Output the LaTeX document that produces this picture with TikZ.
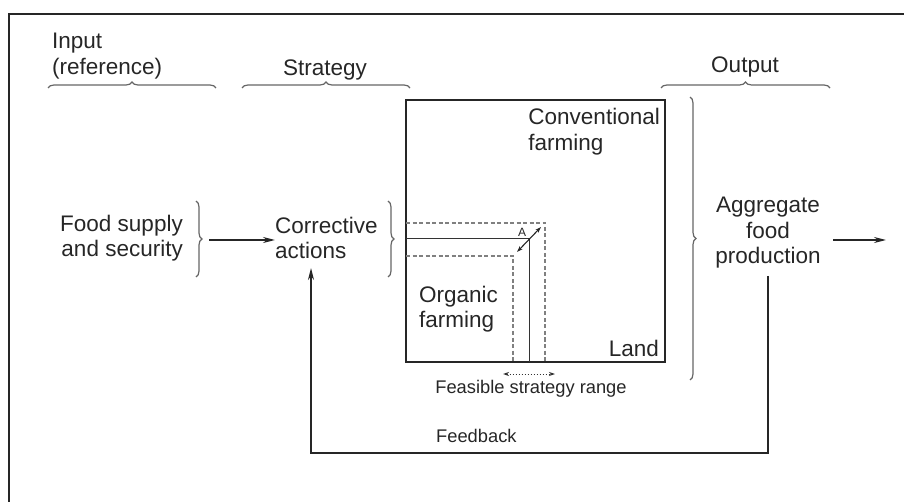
\documentclass[tikz,border=0pt]{standalone}
\usepackage{fontspec}
\setmainfont{Liberation Sans}
\usetikzlibrary{arrows.meta,decorations.pathreplacing,positioning}

\tikzset{
  lbl/.style={inner sep=0pt, text=black!85, font=\fontsize{22.5}{25.5}\selectfont},
  small/.style={inner sep=0pt, text=black!85, font=\fontsize{18.3}{21}\selectfont},
  brc/.style={decorate, decoration={brace, amplitude=6pt}, draw=black!60, line width=1.2pt},
  arr/.style={-{Stealth[length=12pt,width=6pt]}, draw=black!85, line width=1.6pt},
  cut/.style={draw=black!50, dash pattern=on 4pt off 2.5pt, line width=1.1pt},
}

\begin{document}
\begin{tikzpicture}[x=1pt,y=1pt]
	\useasboundingbox (0,0) rectangle (904,-502);
	% frame
	\draw[line width=2.5pt, black!85] (9,-502) -- (9,-14) -- (904,-14);

	% headings and braces
	\node[lbl, align=left, anchor=west] (input) at (52,-56) {Input\\(reference)};
	\node[lbl] (strategy) at (325,-70) {Strategy};
	\node[lbl] (output) at (745,-67) {Output};
	\draw[brc] (48,-88) -- (216,-88);
	\draw[brc] (242,-88) -- (410,-88);
	\draw[brc] (661,-88) -- (830,-88);

	% blocks
	\node[lbl, align=right, anchor=east] (food) at (183,-238) {Food supply\\and security};
	\node[lbl, align=left, anchor=west] (corrective) at (275,-238) {Corrective\\actions};
	\node[lbl, align=center] (aggregate) at (768,-233) {Aggregate\\food\\production};
	\draw[brc] (196,-201) -- (196,-277);
	\draw[brc] (388,-201) -- (388,-277);
	\draw[brc] (690,-97) -- (690,-380);

	% land
	\draw[line width=2.2pt, black!85] (406,-100) rectangle (665,-362);
	\draw[cut] (406,-223) -- (545,-223) -- (545,-362);
	\draw[line width=1pt, black!80] (406,-239) -- (529,-239) -- (529,-362);
	\draw[cut] (406,-256) -- (513,-256) -- (513,-362);
	\node[lbl, align=left, anchor=north east] (conv) at (660,-108) {Conventional\\farming};
	\node[lbl, anchor=base east] (landlbl) at (659,-356) {Land};
	\node[lbl, align=left, anchor=west] (organic) at (419,-309) {Organic\\farming};
	\node[inner sep=0pt, text=black!85, font=\fontsize{12}{12}\selectfont] (A) at (522,-232) {A};
	\coordinate (a1) at (517,-252);
	\coordinate (a2) at (541,-227);
	\draw[{Stealth[length=6pt,width=4pt]}-{Stealth[length=6pt,width=4pt]}, line width=1.1pt, black!85] (a1) -- (a2);
	\coordinate (r1) at (503,-374);
	\coordinate (r2) at (555,-374);
	\draw[{Stealth[length=6pt,width=4pt]}-{Stealth[length=6pt,width=4pt]}, dotted, line width=1pt, black!80] (r1) -- (r2);
	\node[small] (feasible) at (531,-389) {Feasible strategy range};

	% arrows
	\coordinate (foodtip) at (209,-240);
	\coordinate (outstart) at (833,-240);
	\coordinate (outend) at (886,-240);
	\draw[arr] (foodtip) -- (corrective.west |- foodtip);
	\draw[arr] (outstart) -- (outend);

	% feedback
	\coordinate (fbturn) at (311,-453);
	\coordinate (fbend) at (311,-268);
	\draw[arr] ([yshift=-7pt]aggregate.south) |- (fbturn) -- (fbend);
	\node[small, anchor=west] (feedback) at (436,-436) {Feedback};
\end{tikzpicture}
\end{document}
